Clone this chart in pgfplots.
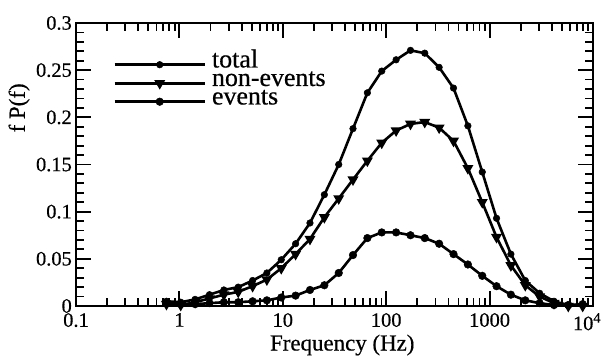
\documentclass[border=0pt]{standalone}
\usepackage{pgfplots}
\pgfplotsset{compat=1.18}
\usepackage{fontspec}
\setmainfont{Liberation Serif}[FakeBold=0.5]
\pgfplotstableread{
f total non events
0.750 0.005 0.002 0.003
1.030 0.004 0.001 0.002
1.419 0.007 0.004 0.002
1.954 0.012 0.008 0.003
2.692 0.017 0.012 0.004
3.707 0.020 0.015 0.004
5.105 0.027 0.021 0.005
7.015 0.035 0.028 0.006
9.66 0.049 0.040 0.009
13.30 0.066 0.055 0.011
18.32 0.088 0.071 0.017
25.23 0.118 0.094 0.022
34.75 0.150 0.114 0.035
47.75 0.188 0.134 0.054
65.77 0.226 0.154 0.072
90.57 0.249 0.173 0.078
124.7 0.261 0.186 0.078
171.8 0.271 0.193 0.075
236.0 0.268 0.195 0.072
325.1 0.253 0.189 0.066
447.7 0.231 0.175 0.055
616.6 0.191 0.146 0.044
849.2 0.142 0.110 0.032
1167 0.093 0.073 0.021
1607 0.055 0.043 0.012
2213 0.027 0.022 0.006
3048 0.0135 0.010 0.003
4198 0.005 0.003 0.001
5768 0.001 0.000 0.001
7943 0.001 0.000 0.002
}\datatable
\begin{document}
\begin{tikzpicture}
\path[use as bounding box] (-76bp,-54bp) rectangle (527bp,306bp);
\begin{axis}[
  at={(0,0)}, anchor=south west,
  scale only axis, width=517bp, height=283bp,
  xmode=log, xmin=0.1, xmax=10000,
  ymin=0, ymax=0.3,
  xtick={0.1,1,10,100,1000,10000},
  xticklabels={0.1,1,10,100,1000,\hspace*{-12bp}10\textsuperscript{4}},
  ytick={0,0.05,0.1,0.15,0.2,0.25,0.3},
  yticklabels={0,0.05,0.1,0.15,0.2,0.25,0.3},
  minor y tick num=4,
  tick align=inside,
  major tick length=15bp, minor tick length=8bp,
  every tick/.style={black, line width=1.8bp},
  axis line style={line width=2.4bp},
  ticklabel style={font=\fontsize{20.5}{22}\selectfont},
  yticklabel style={inner sep=0pt, xshift=-4bp},
  xticklabel style={inner sep=0pt, yshift=-7bp},
  xlabel={Frequency (Hz)},
  ylabel={f P(f)},
  label style={font=\fontsize{23}{24}\selectfont},
  xlabel style={at={(axis description cs:0.515,-0.138)}, anchor=center},
  ylabel style={at={(axis description cs:-0.11,0.70)}, anchor=center},
  legend style={draw=none, fill=none, at={(axis description cs:0.072,0.886)}, anchor=north west,
    font=\fontsize{26}{26}\selectfont, inner sep=0pt, row sep=0bp, column sep=6bp,
    nodes={inner sep=0bp, text height=12bp, text depth=6.5bp}},
  legend cell align=left,
  legend image code/.code={\draw[#1] plot[mark repeat=2, mark phase=2] coordinates {(0bp,0bp) (45bp,0bp) (90bp,0bp)};},
  every axis plot/.append style={black, line width=2.6bp, mark options={solid, fill=black, line width=0.5bp}},
]
\addplot[mark=*, mark size=3.3bp] table[x=f, y=total] {\datatable};
\addlegendentry{total}
\addplot[mark=triangle*, mark size=3.8bp, mark options={rotate=180}] table[x=f, y=non] {\datatable};
\addlegendentry{non-events}
\addplot[mark=*, mark size=3.8bp] table[x=f, y=events] {\datatable};
\addlegendentry{events}
\end{axis}
\end{tikzpicture}
\end{document}
